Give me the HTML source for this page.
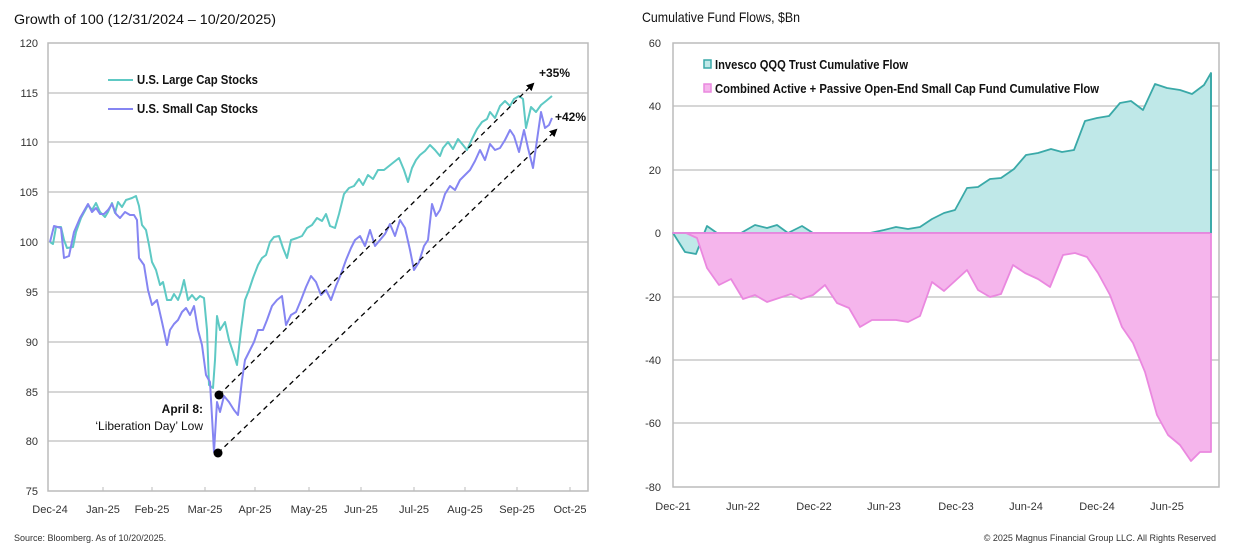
<!DOCTYPE html>
<html><head><meta charset="utf-8"><style>
html,body{margin:0;padding:0;background:#fff;}
svg{display:block;font-family:"Liberation Sans",Arial,sans-serif;}
.t{font-size:11px;fill:#333;}
</style></head><body>
<svg width="1244" height="548" viewBox="0 0 1244 548" xmlns="http://www.w3.org/2000/svg">
<defs><marker id="ah" markerWidth="8" markerHeight="8" refX="6" refY="4" orient="auto" markerUnits="userSpaceOnUse"><path d="M0,0 L8,4 L0,8 z" fill="#000"/></marker></defs>
<text x="14" y="24" font-size="14" fill="#111" textLength="262" lengthAdjust="spacingAndGlyphs">Growth of 100 (12/31/2024 – 10/20/2025)</text>
<text x="642" y="22" font-size="14" fill="#111" textLength="158" lengthAdjust="spacingAndGlyphs">Cumulative Fund Flows, $Bn</text>
<g stroke="#c8c8c8" stroke-width="1.5">
<line x1="48" y1="93" x2="588" y2="93"/><line x1="48" y1="142" x2="588" y2="142"/><line x1="48" y1="192" x2="588" y2="192"/><line x1="48" y1="242" x2="588" y2="242"/><line x1="48" y1="292" x2="588" y2="292"/><line x1="48" y1="342" x2="588" y2="342"/><line x1="48" y1="392" x2="588" y2="392"/><line x1="48" y1="441" x2="588" y2="441"/>
</g>
<rect x="48" y="43" width="540" height="448" fill="none" stroke="#bbb" stroke-width="1.5"/>
<g class="t" text-anchor="end">
<text x="38" y="47">120</text><text x="38" y="97">115</text><text x="38" y="146">110</text><text x="38" y="196">105</text><text x="38" y="246">100</text><text x="38" y="296">95</text><text x="38" y="346">90</text><text x="38" y="396">85</text><text x="38" y="445">80</text><text x="38" y="495">75</text>
</g>
<g class="t" text-anchor="middle">
<text x="50" y="513">Dec-24</text><text x="103" y="513">Jan-25</text><text x="152" y="513">Feb-25</text><text x="205" y="513">Mar-25</text><text x="255" y="513">Apr-25</text><text x="309" y="513">May-25</text><text x="361" y="513">Jun-25</text><text x="414" y="513">Jul-25</text><text x="465" y="513">Aug-25</text><text x="517" y="513">Sep-25</text><text x="570" y="513">Oct-25</text>
</g>
<g stroke="#bbb"><line x1="103" y1="487" x2="103" y2="491"/><line x1="152" y1="487" x2="152" y2="491"/><line x1="205" y1="487" x2="205" y2="491"/><line x1="255" y1="487" x2="255" y2="491"/><line x1="309" y1="487" x2="309" y2="491"/><line x1="361" y1="487" x2="361" y2="491"/><line x1="414" y1="487" x2="414" y2="491"/><line x1="465" y1="487" x2="465" y2="491"/><line x1="517" y1="487" x2="517" y2="491"/><line x1="570" y1="487" x2="570" y2="491"/></g>
<rect x="80" y="70" width="200" height="14" fill="#fff"/>
<line x1="108" y1="80" x2="133" y2="80" stroke="#5ec9c4" stroke-width="2"/>
<text x="137" y="84" font-size="13" font-weight="bold" fill="#111" textLength="121" lengthAdjust="spacingAndGlyphs">U.S. Large Cap Stocks</text>
<line x1="108" y1="109" x2="133" y2="109" stroke="#8585f2" stroke-width="2"/>
<text x="137" y="113" font-size="13" font-weight="bold" fill="#111" textLength="121" lengthAdjust="spacingAndGlyphs">U.S. Small Cap Stocks</text>
<polyline fill="none" stroke="#5ec9c4" stroke-width="2" stroke-linejoin="round" points="50,242 53,244 56,227 61,227 64,240 67,248 73,247 76,232 81,218 88,205 92,210 96,203 100,212 105,217 108,212 112,203 115,213 118,202 122,207 126,200 132,198 136,196 139,206 142,225 146,230 149,245 152,262 156,270 160,285 163,282 167,300 171,300 174,294 178,300 181,292 184,280 188,300 192,295 196,300 200,296 204,298 207,330 209,385 213,388 215,360 217,316 220,330 225,322 229,340 233,352 237,365 241,330 245,300 249,290 253,278 258,265 262,258 266,255 270,242 274,237 279,236 283,248 287,258 291,240 297,238 302,236 307,228 312,225 317,218 322,221 326,214 330,226 335,228 339,214 344,194 349,188 354,186 359,179 363,185 368,175 373,179 378,170 384,170 389,166 394,162 399,158 404,170 408,182 412,168 416,160 420,155 425,151 430,145 435,150 440,156 443,148 448,142 453,149 458,139 463,145 467,150 472,139 477,129 482,122 487,119 490,112 495,118 500,106 505,101 510,106 514,99 519,96 523,99 526,128 531,107 536,112 541,105 546,101 552,96"/>
<polyline fill="none" stroke="#8585f2" stroke-width="2" stroke-linejoin="round" points="50,242 54,226 61,228 64,258 69,256 74,232 80,218 88,204 92,212 96,208 100,214 104,214 108,210 112,204 116,214 120,218 125,212 130,215 134,215 137,220 139,258 144,265 148,290 152,305 157,300 162,322 167,345 170,330 174,324 178,320 182,312 186,308 190,315 194,306 198,330 202,345 206,375 210,382 214,452 217,402 220,412 224,396 229,402 234,410 238,415 242,380 245,360 249,352 254,342 258,330 263,330 267,320 272,306 277,300 282,296 286,325 291,315 296,312 301,300 306,287 311,276 316,282 321,295 326,290 331,300 336,286 341,274 346,260 351,248 355,240 360,236 365,246 370,230 375,246 380,240 385,234 390,224 395,236 400,220 405,228 410,250 414,270 419,262 424,246 428,240 432,204 436,216 440,210 445,194 450,186 455,190 460,180 465,175 470,170 475,161 480,150 485,160 490,144 495,150 500,148 505,140 510,130 514,136 519,152 524,130 528,148 533,168 537,140 541,112 545,128 549,125 552,118"/>
<line x1="219" y1="395" x2="533" y2="84" stroke="#000" stroke-width="1.3" stroke-dasharray="5,4" marker-end="url(#ah)"/>
<line x1="218" y1="453" x2="556" y2="130" stroke="#000" stroke-width="1.3" stroke-dasharray="5,4" marker-end="url(#ah)"/>
<circle cx="219" cy="395" r="4.5" fill="#000"/><circle cx="218" cy="453" r="4.5" fill="#000"/>
<text x="539" y="77" font-size="12" font-weight="bold" fill="#111">+35%</text>
<text x="555" y="121" font-size="12" font-weight="bold" fill="#111">+42%</text>
<text x="203" y="413" font-size="12" font-weight="bold" fill="#111" text-anchor="end">April 8:</text>
<text x="203" y="430" font-size="12" fill="#111" text-anchor="end">‘Liberation Day’ Low</text>
<text x="14" y="541" font-size="9" fill="#333">Source: Bloomberg. As of 10/20/2025.</text>

<g stroke="#c8c8c8" stroke-width="1.5">
<line x1="673" y1="106" x2="1219" y2="106"/><line x1="673" y1="170" x2="1219" y2="170"/><line x1="673" y1="297" x2="1219" y2="297"/><line x1="673" y1="360" x2="1219" y2="360"/><line x1="673" y1="423" x2="1219" y2="423"/>
</g>
<rect x="673" y="43" width="546" height="444" fill="none" stroke="#bbb" stroke-width="1.5"/>
<g class="t" text-anchor="end">
<text x="661" y="47">60</text><text x="661" y="110">40</text><text x="661" y="174">20</text><text x="661" y="237">0</text><text x="661" y="301">-20</text><text x="661" y="364">-40</text><text x="661" y="427">-60</text><text x="661" y="491">-80</text>
</g>
<g class="t" text-anchor="middle">
<text x="673" y="510">Dec-21</text><text x="743" y="510">Jun-22</text><text x="814" y="510">Dec-22</text><text x="884" y="510">Jun-23</text><text x="956" y="510">Dec-23</text><text x="1026" y="510">Jun-24</text><text x="1097" y="510">Dec-24</text><text x="1167" y="510">Jun-25</text>
</g>
<polygon fill="#bfe8e8" stroke="#3aa9a8" stroke-width="1.8" stroke-linejoin="round" points="673,233 685,252 696,254 707,226 717,233 741,233 755,225 767,228 777,225 788,233 802,226 813,233 870,233 884,230 896,227 908,229 920,227 932,219 944,213 955,210 967,188 978,187 990,179 1001,178 1014,169 1026,155 1038,153 1051,149 1062,152 1074,150 1085,121 1097,118 1109,116 1120,103 1131,101 1143,110 1155,84 1167,88 1180,90 1192,94 1204,85 1211,73 1211,233"/>
<polygon fill="#f5b5ec" stroke="#ea88df" stroke-width="1.8" stroke-linejoin="round" points="673,233 686,233 697,238 707,268 719,285 731,279 743,299 755,295 767,302 779,298 791,294 801,299 813,295 825,285 837,303 849,308 860,327 872,320 884,320 896,320 908,322 920,316 932,282 944,291 955,281 967,270 978,290 990,297 1001,294 1013,265 1025,273 1038,279 1050,287 1063,255 1075,253 1087,257 1098,273 1110,295 1122,327 1133,343 1145,372 1157,415 1168,435 1180,445 1191,461 1200,452 1211,452 1211,233"/>
<line x1="673" y1="233" x2="1211" y2="233" stroke="#ea88df" stroke-width="1.5"/>
<line x1="1211" y1="73" x2="1211" y2="233" stroke="#3aa9a8" stroke-width="1.8"/>
<rect x="704" y="60" width="7" height="8" fill="#bfe8e8" stroke="#3aa9a8" stroke-width="1.5"/>
<text x="715" y="69" font-size="13" font-weight="bold" fill="#111" textLength="193" lengthAdjust="spacingAndGlyphs">Invesco QQQ Trust Cumulative Flow</text>
<rect x="704" y="84" width="7" height="8" fill="#f5b5ec" stroke="#ea88df" stroke-width="1.5"/>
<text x="715" y="93" font-size="13" font-weight="bold" fill="#111" textLength="384" lengthAdjust="spacingAndGlyphs">Combined Active + Passive Open-End Small Cap Fund Cumulative Flow</text>
<text x="1216" y="541" font-size="9" fill="#333" text-anchor="end">© 2025 Magnus Financial Group LLC. All Rights Reserved</text>
</svg>
</body></html>
